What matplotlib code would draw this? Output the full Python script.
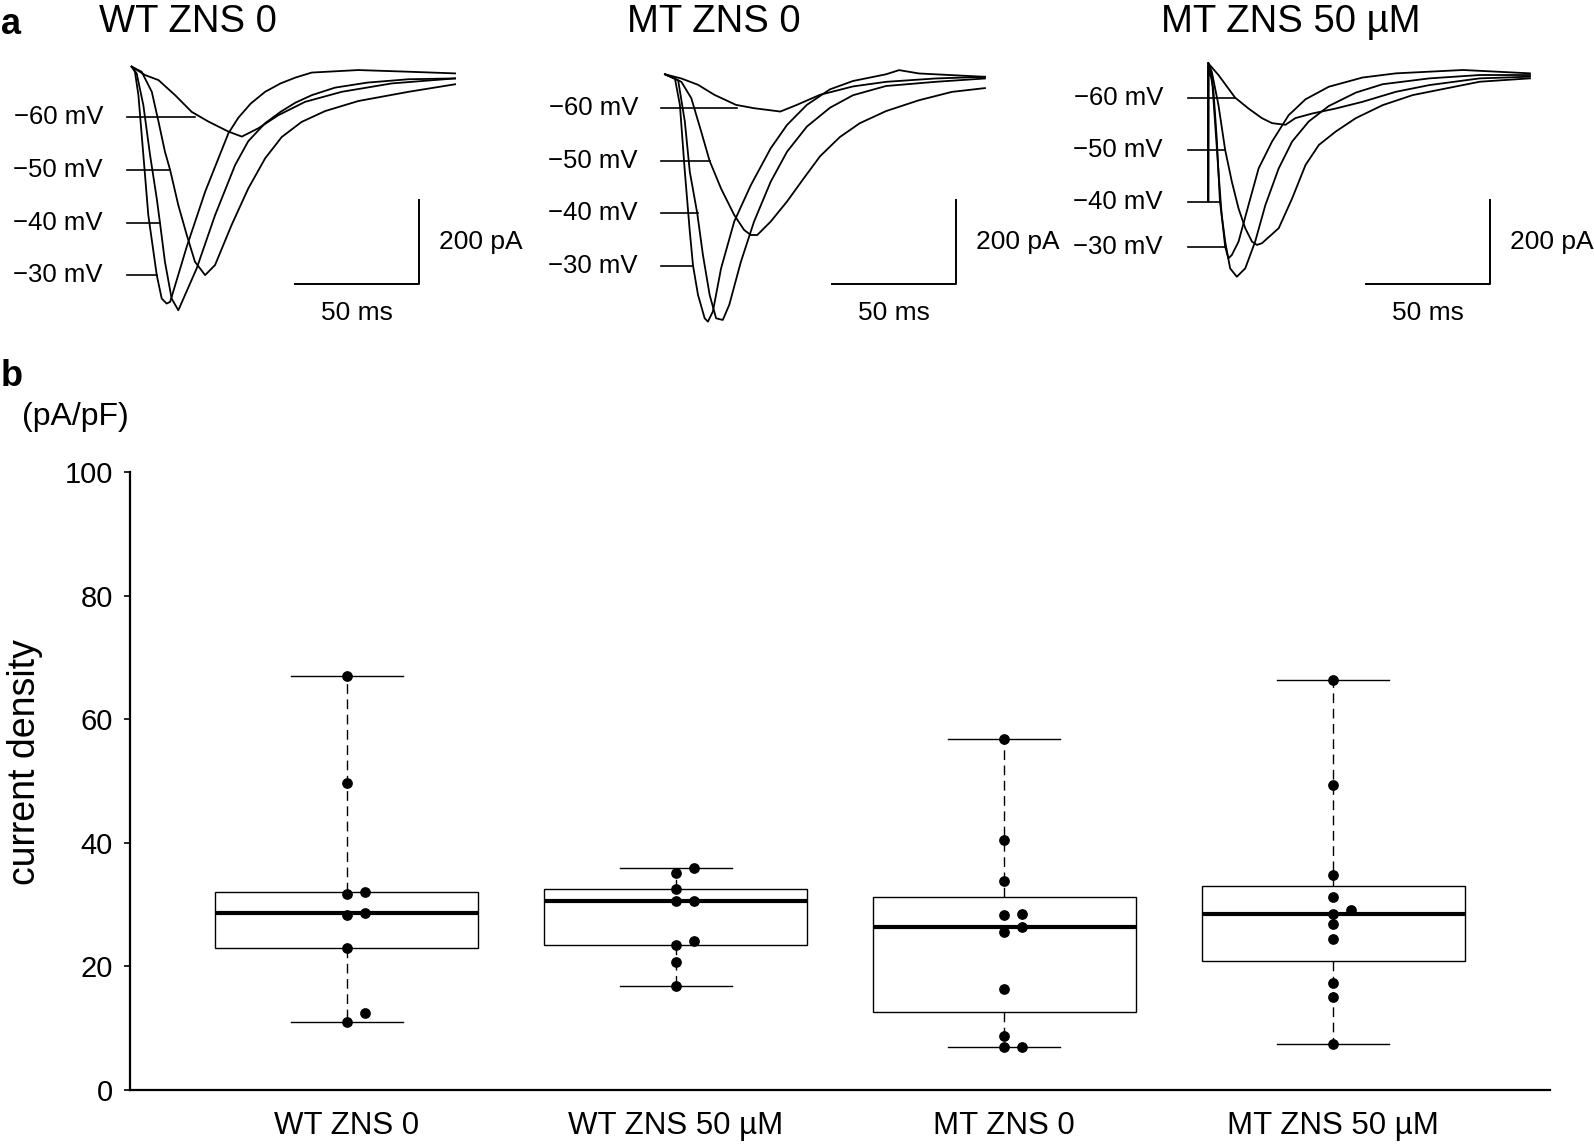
import numpy as np
import matplotlib.pyplot as plt

plt.rcParams['font.family'] = ['Liberation Sans', 'DejaVu Sans']

# ---- panel a: current traces, (time in ms, current in pA) ----
wt0_m30 = [(0, 0), (1.3, -12), (2.7, -68), (4.7, -211), (6.7, -355), (10.1, -498), (12.1, -554),
           (14.1, -566), (15.5, -562), (22.2, -430), (29.6, -299), (39.0, -159), (43.0, -122),
           (48.0, -88), (53.8, -60), (60.0, -40), (66.0, -26), (72.6, -14), (91.4, -8),
           (111.6, -12), (130.4, -16)]
wt0_m40 = [(0, 0), (2.0, -16), (4.7, -92), (7.4, -211), (10.1, -315), (11.4, -373), (13.4, -466),
           (16.1, -554), (18.8, -582), (26.2, -482), (33.6, -355), (41.7, -235), (47.0, -178),
           (53.8, -135), (60.0, -108), (66.0, -86), (72.6, -68), (82.0, -50), (95.0, -38),
           (111.6, -30), (130.4, -28)]
wt0_m50 = [(0, 0), (4.0, -12), (8.1, -60), (10.8, -131), (13.4, -203), (15.5, -247), (18.8, -331),
           (22.2, -402), (25.5, -466), (29.6, -498), (33.6, -474), (40.3, -378), (47.0, -291),
           (53.8, -219), (60.5, -168), (68.5, -132), (78.0, -106), (91.4, -82), (111.6, -60),
           (130.4, -42)]
wt0_m60 = [(0, 0), (5.4, -20), (10.8, -32), (17.5, -68), (24.2, -108), (30.9, -131), (39.0, -155),
           (44.4, -167), (51.1, -147), (59.1, -116), (69.9, -84), (84.7, -60), (104.8, -40),
           (130.4, -28)]

mt0_m30 = [(0, 0), (4.0, -10), (6.0, -73), (8.0, -233), (10.0, -376), (11.3, -457), (13.3, -527),
           (16.0, -583), (17.3, -591), (19.3, -567), (22.6, -464), (27.9, -352), (34.6, -265),
           (42.6, -177), (49.2, -121), (57.2, -73), (66.5, -36), (75.8, -16), (89.1, 0),
           (94.4, 10), (102.4, 2), (115.7, -2), (129.0, -6)]
mt0_m40 = [(0, 0), (5.3, -14), (8.0, -113), (10.0, -233), (13.0, -332), (15.3, -432), (18.0, -527),
           (20.6, -583), (23.3, -587), (25.9, -551), (30.6, -448), (35.9, -352), (42.6, -257),
           (49.2, -185), (57.2, -125), (66.5, -80), (75.8, -50), (89.1, -28), (109.0, -18),
           (129.0, -10)]
mt0_m50 = [(0, 0), (6.6, -18), (10.6, -57), (14.6, -137), (18.0, -207), (22.6, -273), (27.9, -336),
           (31.9, -372), (34.6, -384), (37.2, -384), (42.6, -352), (49.2, -304), (55.9, -249),
           (62.5, -196), (70.5, -150), (78.5, -117), (89.1, -88), (102.4, -62), (115.7, -42),
           (129.0, -33)]
mt0_m60 = [(0, 0), (6.6, -10), (13.3, -25), (19.9, -49), (28.6, -73), (35.9, -81), (46.5, -89),
           (53.2, -73), (62.5, -49), (75.8, -29), (89.1, -18), (109.0, -10), (129.0, -6)]

mt50_m30 = [(0, 0), (1.4, -28), (2.7, -139), (4.1, -259), (5.4, -363), (6.8, -438), (8.1, -466),
            (9.5, -458), (12.2, -426), (16.2, -339), (20.3, -251), (25.7, -187), (32.4, -124),
            (39.2, -86), (48.6, -56), (62.2, -34), (75.7, -24), (102.7, -16), (129.7, -24)]
mt50_m40 = [(0, 0), (0, -331), (0.1, -4), (2.0, -60), (3.4, -179), (4.7, -331), (6.8, -426),
            (8.8, -490), (11.5, -510), (14.9, -490), (18.9, -426), (23.0, -339), (28.4, -251),
            (33.8, -187), (40.5, -139), (48.6, -102), (59.5, -70), (70.3, -50), (89.2, -36),
            (109.5, -28), (129.7, -28)]
mt50_m50 = [(0, 0), (1.4, -20), (4.1, -100), (6.8, -207), (9.5, -283), (12.2, -347), (14.9, -394),
            (17.6, -426), (19.6, -434), (21.6, -430), (28.4, -394), (33.8, -323), (39.2, -243),
            (44.6, -195), (51.4, -163), (59.5, -131), (70.3, -100), (82.4, -76), (95.9, -60),
            (109.5, -44), (129.7, -36)]
mt50_m60 = [(0, 0), (4.1, -28), (10.8, -82), (16.2, -108), (21.6, -131), (25.7, -143), (31.1, -147),
            (35.1, -131), (41.9, -120), (51.4, -108), (62.2, -92), (75.7, -68), (89.2, -52),
            (109.5, -36), (129.7, -32)]

trace_titles = ["WT ZNS 0", "MT ZNS 0", "MT ZNS 50 µM"]
traces = [[wt0_m60, wt0_m50, wt0_m40, wt0_m30],
          [mt0_m60, mt0_m50, mt0_m40, mt0_m30],
          [mt50_m60, mt50_m50, mt50_m40, mt50_m30]]
voltages = ["−60 mV", "−50 mV", "−40 mV", "−30 mV"]

# ---- panel b: current density (pA/pF) ----
groups = ["WT ZNS 0", "WT ZNS 50 µM", "MT ZNS 0", "MT ZNS 50 µM"]
wt_zns0 = [67.0, 49.7, 32.1, 31.7, 28.6, 28.3, 22.9, 12.4, 11.0]
wt_zns50 = [35.9, 35.1, 32.5, 30.6, 30.6, 24.1, 23.5, 20.7, 16.8]
mt_zns0 = [56.8, 40.5, 33.8, 28.5, 28.3, 26.3, 25.6, 16.3, 8.8, 7.0, 6.9]
mt_zns50 = [66.3, 49.3, 34.8, 31.2, 29.1, 28.4, 26.8, 24.4, 17.3, 15.0, 7.4]
# 1 = dot nudged right to avoid overlap
nudge = [[0, 0, 1, 0, 1, 0, 0, 1, 0],
         [1, 0, 0, 0, 1, 1, 0, 0, 0],
         [0, 0, 0, 1, 0, 1, 0, 0, 0, 1, 0],
         [0, 0, 0, 0, 1, 0, 0, 0, 0, 0, 0]]

W, H = 1594, 1145
fig = plt.figure(figsize=(W / 100, H / 100), dpi=100)

# layout of the trace panels (pixel origin of t=0, I=0 and annotation spots)
px_ms, px_pA = 2.48, 0.4185
origins = [(131.7, 66.7), (665.0, 74.3), (1208.3, 63.3)]
lab_levels = [[-119.5, -246.8, -372.9, -497.7],
              [-79.8, -207.2, -332.1, -457.3],
              [-82.2, -207.2, -330.7, -438.2]]
lab_ends = [[25.5, 15.4, 11.4, 10.1], [28.9, 18.1, 13.2, 11.4], [10.8, 6.7, 4.7, 6.7]]
lab_start = [-1.9, -1.6, -8.2]
lab_text = [-11.6, -10.9, -18.3]
bar_t0 = [65.8, 67.5, 63.5]
bar_I = [-518.5, -500.4, -526.6]
title_x = [187.6, 714, 1291]

tmin, tmax, imin, imax = -60, 150, -700, 100
for k in range(3):
    ox, oy = origins[k]
    left = (ox + tmin * px_ms) / W
    top_px = oy - imax * px_pA
    bot_px = oy - imin * px_pA
    ax = fig.add_axes([left, 1 - bot_px / H, (tmax - tmin) * px_ms / W, (bot_px - top_px) / H])
    ax.set_xlim(tmin, tmax)
    ax.set_ylim(imin, imax)
    ax.axis('off')
    for tr in traces[k]:
        t, cur = zip(*tr)
        ax.plot(t, cur, color='black', lw=1.3, solid_joinstyle='round')
    for j, v in enumerate(voltages):
        lv = lab_levels[k][j]
        ax.plot([lab_start[k], lab_ends[k][j]], [lv, lv], color='black', lw=1.2)
        ax.text(lab_text[k], lv, v, ha='right', va='center', fontsize=18.5)
    t0, b = bar_t0[k], bar_I[k]
    ax.plot([t0, t0 + 50, t0 + 50], [b, b, b + 200], color='black', lw=1.4)
    ax.text(t0 + 25, b - 70, "50 ms", ha='center', va='center', fontsize=19)
    ax.text(t0 + 58, b + 100, "200 pA", ha='left', va='center', fontsize=19)
    fig.text(title_x[k] / W, 1 - 22.4 / H, trace_titles[k], ha='center', va='center', fontsize=27.5)

fig.text(1 / W, 1 - 24 / H, "a", fontsize=26, fontweight='bold', ha='left', va='center')
fig.text(1 / W, 1 - 376 / H, "b", fontsize=26, fontweight='bold', ha='left', va='center')

# ---- box plot ----
axb = fig.add_axes([130 / W, 1 - 1090 / H, 1420 / W, 618 / H])
data = [wt_zns0, wt_zns50, mt_zns0, mt_zns50]
pos = np.arange(1, 5)
axb.boxplot(data, positions=pos, widths=0.8, whis=(0, 100), capwidths=0.34,
            patch_artist=True, showfliers=False,
            boxprops=dict(facecolor='white', edgecolor='black', lw=1.0),
            medianprops=dict(color='black', lw=3.0),
            whiskerprops=dict(color='black', lw=1.0, linestyle=(0, (7, 4))),
            capprops=dict(color='black', lw=1.0))
for p, vals, nd in zip(pos, data, nudge):
    axb.scatter(p + 0.055 * np.array(nd), vals, s=45, color='black', zorder=3)

axb.set_xlim(0.34, 4.66)
axb.set_ylim(0, 100)
axb.spines['top'].set_visible(False)
axb.spines['right'].set_visible(False)
axb.spines['left'].set_linewidth(1.6)
axb.spines['bottom'].set_linewidth(1.6)
axb.set_yticks(np.arange(0, 101, 20))
axb.tick_params(axis='y', labelsize=21, length=4.5, width=1.2, pad=8)
axb.set_xticks(pos)
axb.set_xticklabels(groups)
axb.tick_params(axis='x', labelsize=22.5, length=0, pad=15)

fig.text(22 / W, 1 - 417 / H, "(pA/pF)", ha='left', va='center', fontsize=23)
fig.text(25 / W, 1 - 762 / H, "current density", rotation=90, ha='center', va='center', fontsize=27)

fig.savefig("out.png", dpi=100)
